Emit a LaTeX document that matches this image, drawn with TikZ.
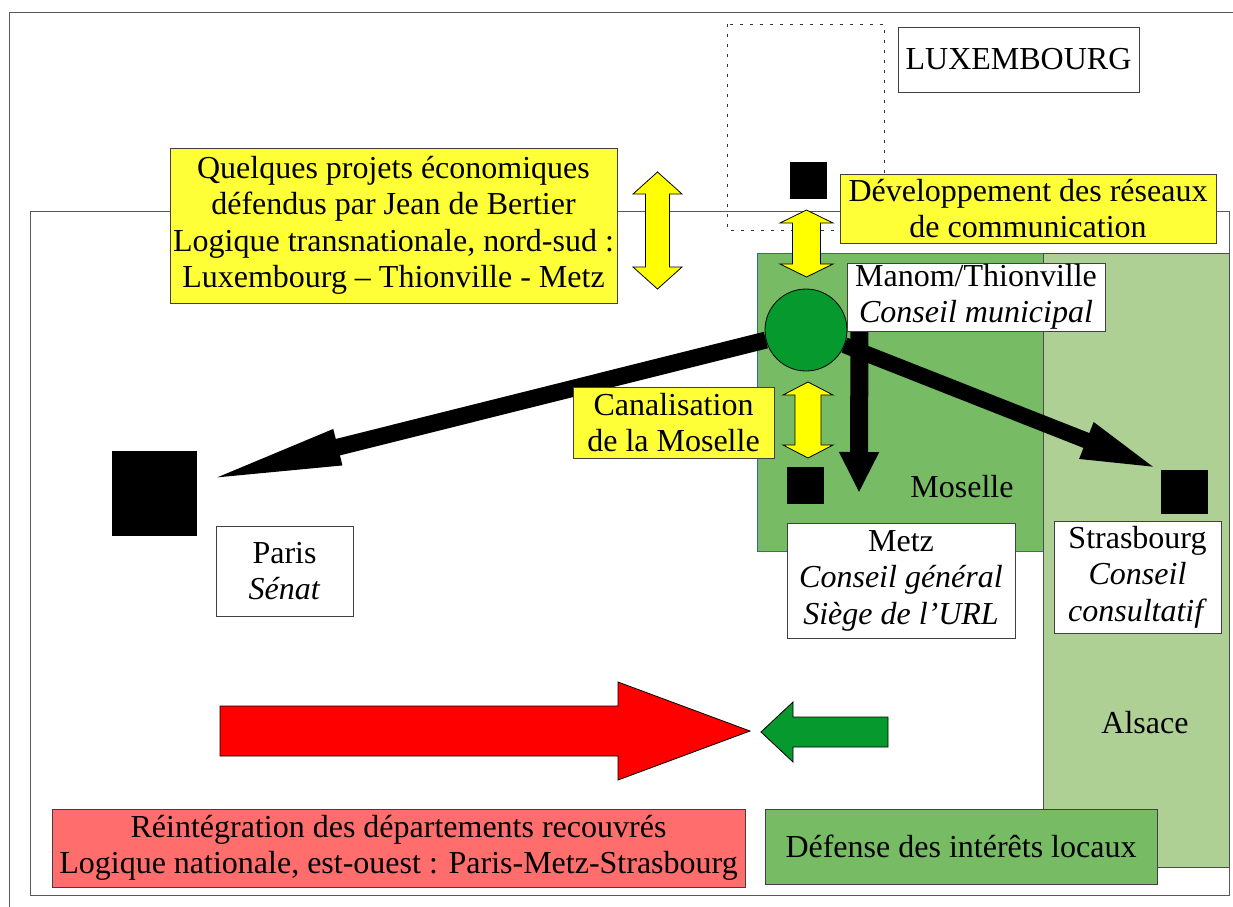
\documentclass[tikz,border=0pt]{standalone}
\usepackage{fontspec}
\setmainfont{Liberation Serif}
\usetikzlibrary{arrows.meta}

\definecolor{boxyellow}{HTML}{FFFF38}
\definecolor{arrowyellow}{HTML}{FFFF00}
\definecolor{mosgreen}{HTML}{77BC65}
\definecolor{alsgreen}{HTML}{AFD095}
\definecolor{darkgreen}{HTML}{069A2E}
\definecolor{redbox}{HTML}{FF6D6D}
\definecolor{mosblue}{HTML}{3465A4}

% yellow double arrow: x, top, bottom, head half width, shaft half width, head length
\newcommand{\ydarrow}[6]{%
  \filldraw[fill=arrowyellow, draw=black, line width=0.8pt, line join=miter]
    (#1-#4,#2+#6) -- (#1,#2) -- (#1+#4,#2+#6) -- (#1+#5,#2+#6)
    -- (#1+#5,#3-#6) -- (#1+#4,#3-#6) -- (#1,#3) -- (#1-#4,#3-#6)
    -- (#1-#5,#3-#6) -- (#1-#5,#2+#6) -- cycle;}

\begin{document}
\begin{tikzpicture}[x=1pt,y=-1pt,
    font=\fontsize{32}{36.5}\selectfont,
    frame/.style={draw=black!65, line width=1pt},
    box/.style={draw=black!75, line width=1pt, fill=white, align=center, inner sep=0pt},
    ybox/.style={box, fill=boxyellow},
    town/.style={fill=black, inner sep=0pt, minimum size=#1},
    fatline/.style={draw=black, line width=#1},
  ]
  \useasboundingbox (0,0) rectangle (1233,906);
  \begin{scope}
    \clip (0,0) rectangle (1233,906);
    \draw[frame] (9,12) rectangle (1250,930);
  \end{scope}
  \draw[frame] (30,211) rectangle (1229,895);

  % regions
  \filldraw[fill=mosgreen, draw=mosblue, line width=0.8pt] (757,253) rectangle (1043,551);
  \filldraw[fill=alsgreen, draw=black!70, line width=0.8pt] (1043,253) rectangle (1229,867);
  \node (moselle) at (962,487) {Moselle};
  \node (alsace) at (1145,723) {Alsace};
  \draw[black!80, line width=1pt, dash pattern=on 3pt off 7pt] (727,24) rectangle (884,230);

  % towns
  \node[town=37] (luxsq) at (808.5,180) {};
  \node[town=37] (metzsq) at (805,485.5) {};
  \node[town, minimum width=47, minimum height=44] (strassq) at (1184.5,492) {};
  \node[town=85] (parissq) at (154.5,493) {};
  \node[circle, draw=black, line width=0.8pt, fill=darkgreen, minimum size=82, inner sep=0pt] (mano) at (806,330) {};
  \coordinate (metztip) at (859,493);

  % links from Thionville
  \draw[fatline=17, -{Triangle[length=145pt, width=32pt]}] (mano) -- (parissq);
  \draw[fatline=16, -{Triangle[length=80pt, width=34pt]}] (mano) -- (strassq.north west);
  \draw[fatline=18, -{Triangle[length=41pt, width=37pt]}] ([xshift=12]mano.east) -- (metztip);

  % yellow arrows
  \ydarrow{657.5}{172}{289}{24.5}{12}{22}
  \ydarrow{806.5}{210}{277}{26.5}{14}{13}
  \ydarrow{808}{382}{458}{25}{13}{13}

  % labels
  \node[ybox, minimum width=447, minimum height=155] (projets) at (393.5,225.5)
    {Quelques projets économiques\\défendus par Jean de Bertier\\Logique transnationale, nord-sud :\\Luxembourg – Thionville - Metz};
  \node[box, minimum width=241, minimum height=65] (lux) at (1018.5,59.5) {LUXEMBOURG};
  \node[ybox, minimum width=376, minimum height=69] (reseaux) at (1028,208.5)
    {Développement des réseaux\\de communication};
  \node[box, minimum width=258, minimum height=68] (manom) at (976,297)
    {Manom/Thionville\\\textit{Conseil municipal}};
  \node[ybox, minimum width=201, minimum height=71] (canal) at (673.5,422.5)
    {Canalisation\\de la Moselle};
  \node[box, minimum width=228, minimum height=115] (metz) at (901,580.5)
    {Metz\\\textit{Conseil général}\\\textit{Siège de l’URL}};
  \node[box, minimum width=167, minimum height=112] (strasbourg) at (1137.5,577)
    {Strasbourg\\\textit{Conseil}\\\textit{consultatif}};
  \node[box, minimum width=137, minimum height=90] (paris) at (284.5,571)
    {Paris\\\textit{Sénat}};

  % east-west / local
  \filldraw[fill=red, draw=black, line width=0.8pt]
    (220,706) -- (618,706) -- (618,682) -- (750,731) -- (618,780) -- (618,756) -- (220,756) -- cycle;
  \filldraw[fill=darkgreen, draw=black, line width=0.8pt]
    (888,717) -- (793,717) -- (793,702) -- (761,732) -- (793,762) -- (793,747) -- (888,747) -- cycle;
  \node[box, fill=redbox, minimum width=693, minimum height=78] (national) at (398.5,848)
    {Réintégration des départements recouvrés\\Logique nationale, est-ouest : Paris-Metz-Strasbourg};
  \node[box, fill=mosgreen, minimum width=392, minimum height=75] (locaux) at (961,846.5)
    {Défense des intérêts locaux};
\end{tikzpicture}
\end{document}
